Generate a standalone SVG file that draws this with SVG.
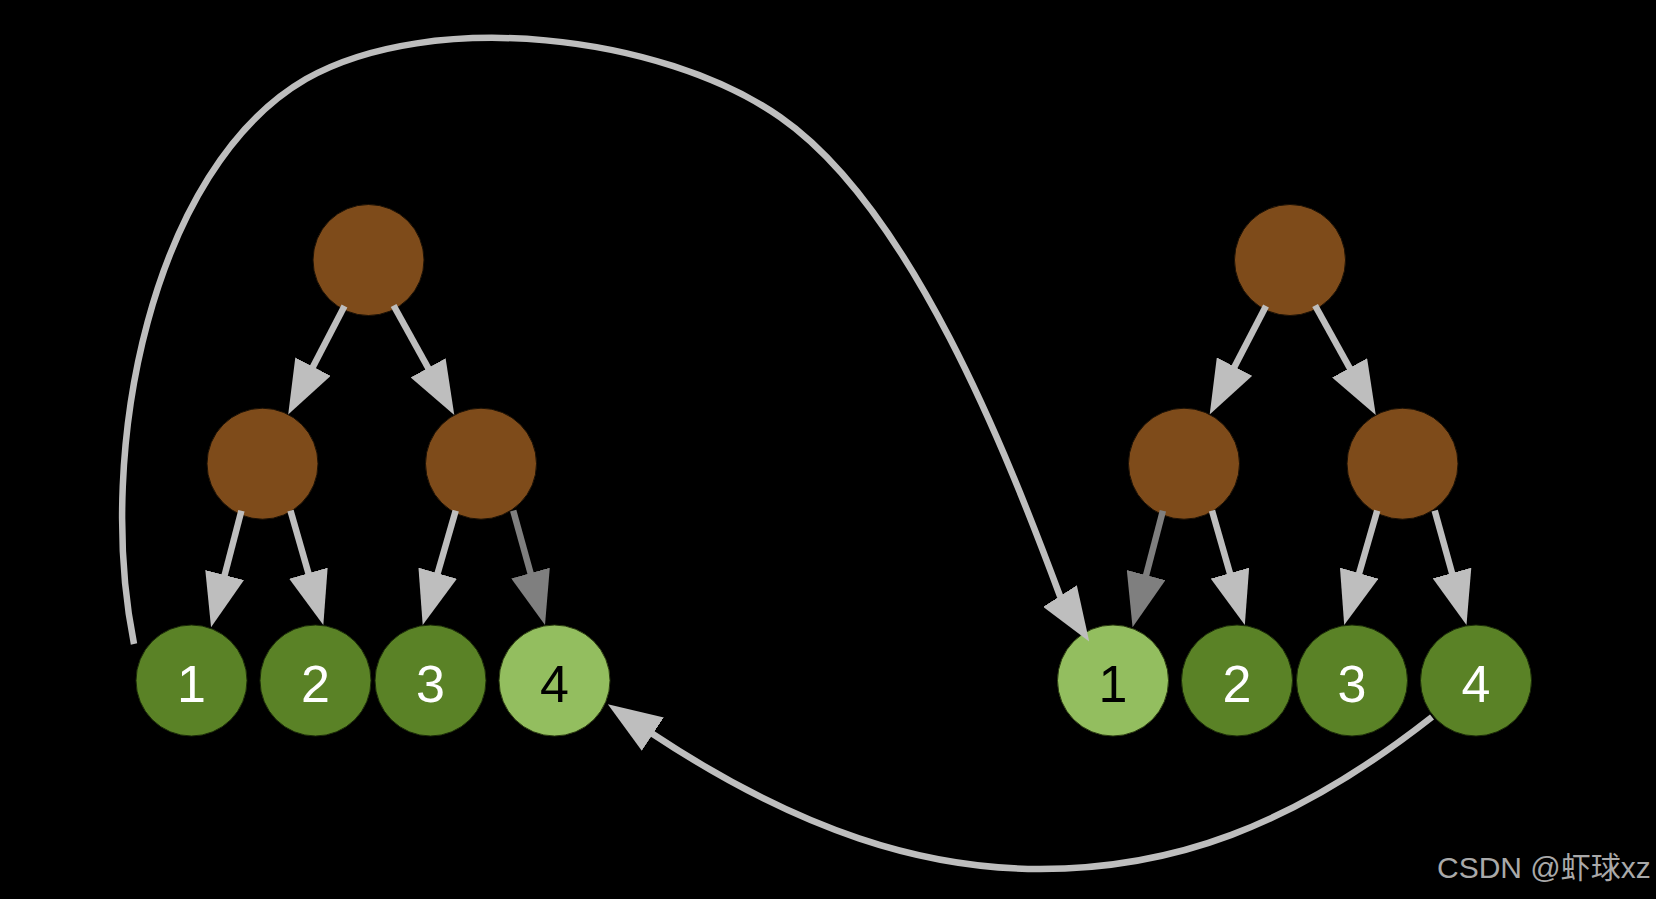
<svg xmlns="http://www.w3.org/2000/svg" width="1656" height="899" viewBox="0 0 1656 899">
  <style>
    .inner { fill: #7e4b1a; stroke: #1a1005; stroke-width: 1; }
    .leaf { fill: #5a8226; stroke: #1a2a08; stroke-width: 1; }
    .leafhl { fill: #93be5f; stroke: #2a3a10; stroke-width: 1; }
    .num { font-family: "Liberation Sans", Arial, sans-serif; font-size: 52px; text-anchor: middle; fill: #ffffff; }
    .numdark { fill: #000000; }
    .edge { fill: none; stroke: #bebebe; stroke-width: 6.5; marker-end: url(#ah); }
    .edgedim { fill: none; stroke: #7f7f7f; stroke-width: 6.5; marker-end: url(#ahd); }
    .curve { fill: none; stroke: #bebebe; stroke-width: 6.5; }
    .wm { font-family: "Liberation Sans", Arial, "Noto Sans CJK SC", sans-serif; font-size: 30px; fill: #a9a9a9; }
  </style>
  <defs>
    <marker id="ah" markerUnits="userSpaceOnUse" viewBox="0 0 54 40" markerWidth="54" markerHeight="40" refX="1" refY="20" orient="auto">
      <path d="M0,0 L54,20 L0,40 z" fill="#bebebe"/>
    </marker>
    <marker id="ahd" markerUnits="userSpaceOnUse" viewBox="0 0 54 40" markerWidth="54" markerHeight="40" refX="1" refY="20" orient="auto">
      <path d="M0,0 L54,20 L0,40 z" fill="#7f7f7f"/>
    </marker>
  </defs>
  <rect x="0" y="0" width="1656" height="899" fill="#000000"/>

  <!-- left tree -->
  <g id="L_root"><circle class="inner" cx="368.5" cy="260" r="55.5"/></g>
  <g id="L_a"><circle class="inner" cx="262.5" cy="463.7" r="55.5"/></g>
  <g id="L_b"><circle class="inner" cx="481" cy="463.7" r="55.5"/></g>
  <g id="L_1"><circle class="leaf" cx="191.5" cy="680.5" r="55.5"/><text class="num" x="191.5" y="702">1</text></g>
  <g id="L_2"><circle class="leaf" cx="315.5" cy="680.5" r="55.5"/><text class="num" x="315.5" y="702">2</text></g>
  <g id="L_3"><circle class="leaf" cx="430.5" cy="680.5" r="55.5"/><text class="num" x="430.5" y="702">3</text></g>
  <g id="L_4"><circle class="leafhl" cx="554.5" cy="680.5" r="55.5"/><text class="num numdark" x="554.5" y="702">4</text></g>

  <!-- right tree -->
  <g id="R_root"><circle class="inner" cx="1290" cy="260" r="55.5"/></g>
  <g id="R_a"><circle class="inner" cx="1184" cy="463.7" r="55.5"/></g>
  <g id="R_b"><circle class="inner" cx="1402.5" cy="463.7" r="55.5"/></g>
  <g id="R_1"><circle class="leafhl" cx="1113" cy="680.5" r="55.5"/><text class="num numdark" x="1113" y="702">1</text></g>
  <g id="R_2"><circle class="leaf" cx="1237" cy="680.5" r="55.5"/><text class="num" x="1237" y="702">2</text></g>
  <g id="R_3"><circle class="leaf" cx="1352" cy="680.5" r="55.5"/><text class="num" x="1352" y="702">3</text></g>
  <g id="R_4"><circle class="leaf" cx="1476" cy="680.5" r="55.5"/><text class="num" x="1476" y="702">4</text></g>

  <g id="connectors">
    <line class="edge" x1="344.5" y1="306.1" x2="312.6" y2="367.5"/>
    <line class="edge" x1="393.6" y1="305.5" x2="428.6" y2="368.7"/>
    <line class="edge" x1="241.4" y1="510.7" x2="224.4" y2="576"/>
    <line class="edge" x1="290.5" y1="510.7" x2="308.7" y2="574.1"/>
    <line class="edge" x1="455.7" y1="510.7" x2="437.4" y2="574.1"/>
    <line class="edgedim" x1="513.2" y1="510.7" x2="530.8" y2="574"/>

    <line class="edge" x1="1266" y1="306.1" x2="1234.1" y2="367.5"/>
    <line class="edge" x1="1315.1" y1="305.5" x2="1350.1" y2="368.7"/>
    <line class="edgedim" x1="1162.9" y1="510.7" x2="1145.9" y2="576"/>
    <line class="edge" x1="1212" y1="510.7" x2="1230.2" y2="574.1"/>
    <line class="edge" x1="1377.2" y1="510.7" x2="1358.9" y2="574.1"/>
    <line class="edge" x1="1434.7" y1="510.7" x2="1452.3" y2="574"/>

    <path class="curve" marker-end="url(#ah)" d="M134,644 C95,450 152,168 306,79 C432.2,8 661.1,34.35 780,117 C911.2,208.2 1007.5,455 1060,596 L1060.54,596.84"/>
    <path class="curve" marker-end="url(#ah)" d="M1432,717 C1289.8,828.6 1170,869 1040,869 C925,869 801.4,832.5 652,733.5"/>
  </g>

  <text class="wm" x="1437" y="878">CSDN @虾球xz</text>
</svg>
